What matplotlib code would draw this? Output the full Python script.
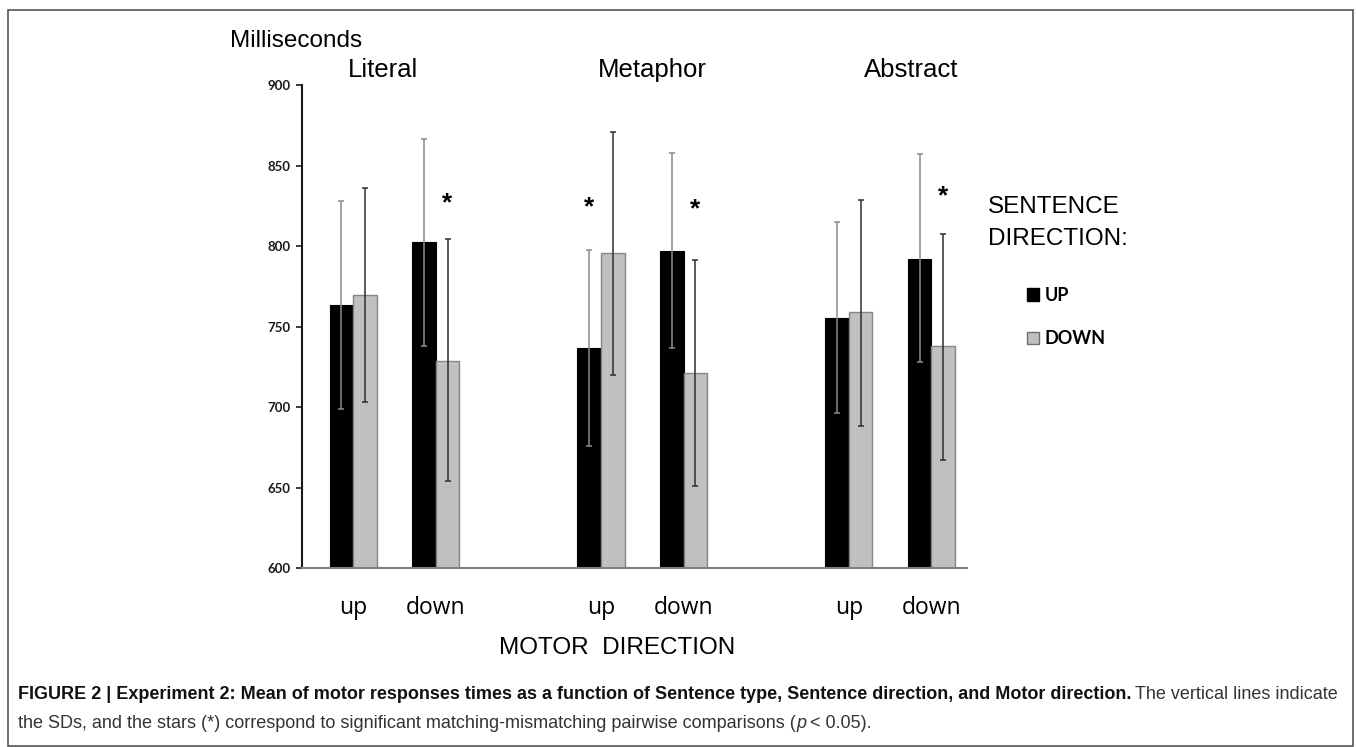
import numpy as np
import matplotlib
matplotlib.use("Agg")
import matplotlib.pyplot as plt
from matplotlib import font_manager
from matplotlib.patches import Patch, Rectangle

# data: order is Literal up, Literal down, Metaphor up, Metaphor down, Abstract up, Abstract down
sentence_types = ['Literal', 'Metaphor', 'Abstract']
motor_labels = ['up', 'down', 'up', 'down', 'up', 'down']

up_mean = [763.4, 802.3, 736.6, 797.1, 755.4, 792.2]
up_low = [699.0, 737.8, 676.2, 736.8, 696.5, 727.9]
up_high = [828.1, 866.7, 797.5, 857.7, 815.1, 857.0]

down_mean = [769.6, 728.9, 795.5, 721.3, 758.9, 738.0]
down_low = [703.1, 653.9, 720.0, 650.8, 688.6, 667.4]
down_high = [836.0, 804.3, 870.7, 791.5, 828.7, 807.8]

# significant comparisons (*): condition index, which bar, star height
star_cond = [1, 2, 3, 5]
star_bar = ['DOWN', 'UP', 'DOWN', 'DOWN']
star_y = [828.0, 825.5, 824.5, 832.0]

yticks = [600, 650, 700, 750, 800, 850, 900]

W, H = 1356, 747


def px(x, y):
    # pixel position (from top left) to figure fraction
    return x / W, 1 - y / H


names = {f.name for f in font_manager.fontManager.ttflist}
cap_font = 'Liberation Sans Narrow' if 'Liberation Sans Narrow' in names else 'Liberation Sans'

plt.rcParams['font.family'] = 'Liberation Sans'

fig = plt.figure(figsize=(W / 100, H / 100), dpi=100)
ax = fig.add_axes([302 / W, 1 - 568.3 / H, 665 / W, (568.3 - 85) / H])

pos = np.array([g * 3 + m for g in range(3) for m in range(2)], dtype=float)
w = 0.285

up_mean = np.array(up_mean)
down_mean = np.array(down_mean)
x_up = pos - w / 2
x_down = pos + w / 2

ax.bar(x_up, up_mean - 600, bottom=600, width=w, color='black', edgecolor='black', linewidth=0.8, zorder=2)
ax.bar(x_down, down_mean - 600, bottom=600, width=w, color='#c0c0c0', edgecolor='#858585', linewidth=1.0, zorder=2)

ax.errorbar(x_up, up_mean, yerr=[up_mean - np.array(up_low), np.array(up_high) - up_mean],
            fmt='none', ecolor='#8c8c8c', elinewidth=1.1, capsize=2.2, capthick=1.1, zorder=3)
ax.errorbar(x_down, down_mean, yerr=[down_mean - np.array(down_low), np.array(down_high) - down_mean],
            fmt='none', ecolor='#2e2e2e', elinewidth=1.1, capsize=2.2, capthick=1.1, zorder=3)

for c, b, y in zip(star_cond, star_bar, star_y):
    x = x_up[c] if b == 'UP' else x_down[c]
    ax.annotate('*', (x, y), xytext=(0, -0.35 * 19), textcoords='offset points',
                ha='center', va='baseline', fontsize=19, fontweight='bold')

ax.set_xlim(-0.619, 7.43)
ax.set_ylim(600, 900)
ax.set_yticks(yticks)
ax.set_yticklabels([str(t) for t in yticks], fontfamily='Lato', fontweight='bold', fontsize=9.5)
ax.tick_params(axis='y', direction='out', length=4, width=1.2, pad=4, colors='#1a1a1a')
ax.set_xticks(pos)
ax.set_xticklabels(motor_labels, fontfamily='Open Sans', fontsize=16.5)
ax.tick_params(axis='x', length=0, pad=20)

for s in ['top', 'right']:
    ax.spines[s].set_visible(False)
ax.spines['left'].set_color('#1a1a1a')
ax.spines['left'].set_linewidth(1.5)
ax.spines['bottom'].set_color('#7f7f7f')
ax.spines['bottom'].set_linewidth(1.5)

# headings
fig.text(*px(230, 47), 'Milliseconds', fontsize=17.5, ha='left', va='baseline')
title_x = [383, 652, 911]
for name, tx in zip(sentence_types, title_x):
    fig.text(*px(tx, 77), name, fontsize=18.5, ha='center', va='baseline')
fig.text(*px(617, 654), 'MOTOR  DIRECTION', fontsize=17.5, ha='center', va='baseline')

# legend
fig.text(*px(988, 213), 'SENTENCE', fontsize=17.5, ha='left', va='baseline')
fig.text(*px(988, 245), 'DIRECTION:', fontsize=17.5, ha='left', va='baseline')
handles = [Patch(facecolor='black', edgecolor='black'),
           Patch(facecolor='#c0c0c0', edgecolor='#6f6f6f')]
fig.legend(handles, ['UP', 'DOWN'], loc='upper left', bbox_to_anchor=px(1027, 287),
           frameon=False, prop={'family': 'Lato', 'weight': 'bold', 'size': 13},
           handlelength=0.68, handleheight=0.68, handletextpad=0.3,
           labelspacing=1.45, borderpad=0, borderaxespad=0)

# frame around the figure
fig.add_artist(Rectangle(px(8, 746), (1353 - 8) / W, (746 - 10) / H, transform=fig.transFigure,
                         fill=False, edgecolor='#555555', linewidth=1.2))

# caption with mixed bold / italic runs
line1 = [('FIGURE 2 | Experiment 2: Mean of motor responses times as a function of Sentence type, '
          'Sentence direction, and Motor direction.', {'fontweight': 'bold', 'color': '#111111'}),
         ('The vertical lines indicate', {'color': '#333333'})]
line2 = [('the SDs, and the stars (*) correspond to significant matching-mismatching pairwise comparisons (',
          {'color': '#333333'}),
         ('p', {'color': '#333333', 'fontstyle': 'italic'}),
         ('< 0.05).', {'color': '#333333'})]

renderer = fig.canvas.get_renderer()


def place(runs, x0, y, size, gaps):
    texts = [fig.text(0, 1 - y / H, s, fontsize=size, fontfamily=cap_font, ha='left', va='baseline', **kw)
             for s, kw in runs]
    x = x0
    for t, g in zip(texts, gaps):
        t.set_x(x / W)
        bb = t.get_window_extent(renderer)
        x = bb.x1 + g * size
    return texts, x - gaps[-1] * size


size = 12.0
t1, end = place(line1, 18, 699, size, [0.3, 0])
scale = (1336 - 18) / (end - 18)
for t in t1:
    t.remove()
size = size * scale
place(line1, 18, 699, size, [0.3, 0])
place(line2, 18, 728, size, [0.05, 0.3, 0])

fig.savefig('out.png', dpi=100)
